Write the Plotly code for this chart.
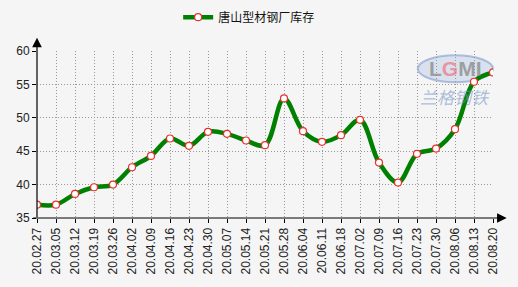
import plotly.graph_objects as go

dates = ["20.02.27","20.03.05","20.03.12","20.03.19","20.03.26","20.04.02","20.04.09",
         "20.04.16","20.04.23","20.04.30","20.05.07","20.05.14","20.05.21","20.05.28",
         "20.06.04","20.06.11","20.06.18","20.07.02","20.07.09","20.07.16","20.07.23",
         "20.07.30","20.08.06","20.08.13","20.08.20"]
values = [37.0,37.0,38.6,39.6,40.0,42.6,44.3,46.9,45.8,47.9,47.6,46.6,45.9,52.9,
          48.0,46.4,47.4,49.7,43.3,40.3,44.6,45.4,48.3,55.4,56.8]
series_name = "唐山型材钢厂库存"
y_ticks = [35, 40, 45, 50, 55, 60]

n = len(dates)
xs = list(range(n))

fig = go.Figure()
fig.add_trace(go.Scatter(
    x=xs, y=values, name=series_name, mode="lines+markers",
    line=dict(color="#008000", width=4.5, shape="spline", smoothing=1.0),
    marker=dict(symbol="circle", size=7, color="white", line=dict(color="#e8322f", width=1.2)),
))

font = "Liberation Sans, Arial, sans-serif"
fig.update_layout(
    width=518, height=287,
    margin=dict(l=37, r=25, t=51, b=69, autoexpand=False),
    paper_bgcolor="#f5f5f5", plot_bgcolor="#f5f5f5",
    font=dict(family=font, size=12, color="#222222"),
    showlegend=True,
    legend=dict(orientation="h", xref="container", yref="container", x=0.481, xanchor="center",
                y=0.94, yanchor="middle", bgcolor="rgba(0,0,0,0)",
                font=dict(family="Noto Sans CJK SC, sans-serif", size=12, color="#111")),
    xaxis=dict(range=[0, n - 1], tickmode="array", tickvals=xs, ticktext=dates,
               tickangle=-90, showgrid=True, gridcolor="#999999", griddash="1px,2px", gridwidth=1,
               zeroline=False, showline=False, ticks="outside", ticklen=4, tickcolor="#000",
               tickfont=dict(size=12, color="#222")),
    yaxis=dict(range=[35, 60], tickmode="array", tickvals=y_ticks, ticktext=[str(v) for v in y_ticks],
               showgrid=True, gridcolor="#999999", griddash="1px,2px", gridwidth=1,
               zeroline=False, showline=False, ticks="outside", ticklen=4, tickcolor="#000",
               tickfont=dict(size=12, color="#222")),
)

# axis lines with arrows
fig.add_annotation(xref="paper", yref="paper", x=1.03, y=0, ax=-475, ay=0, axref="pixel", ayref="pixel",
                   showarrow=True, arrowhead=2, arrowsize=1.6, arrowwidth=1.2, arrowcolor="#000", text="")
fig.add_annotation(xref="paper", yref="paper", x=0, y=1.08, ax=0, ay=181, axref="pixel", ayref="pixel",
                   showarrow=True, arrowhead=2, arrowsize=1.6, arrowwidth=1.2, arrowcolor="#000", text="")

# watermark
fig.add_shape(type="circle", xref="paper", yref="paper", x0=0.835, x1=1.0, y0=0.813, y1=0.974,
              line=dict(color="rgba(120,150,200,0.55)", width=2), fillcolor="rgba(165,190,228,0.35)", layer="below")
fig.add_annotation(xref="paper", yref="paper", x=0.917, y=0.893, xanchor="center", yanchor="middle",
                   text="<b>L<span style='color:rgba(240,110,120,0.85)'>G</span>MI</b>", showarrow=False,
                   font=dict(family=font, size=21, color="rgba(140,140,140,0.8)"))
fig.add_annotation(xref="paper", yref="paper", x=0.917, y=0.729, xanchor="center", yanchor="middle",
                   text="<i>兰格钢铁</i>", showarrow=False,
                   font=dict(family="Noto Sans CJK SC, sans-serif", size=17, color="rgba(120,150,200,0.6)"))

fig.write_html("out.html")
